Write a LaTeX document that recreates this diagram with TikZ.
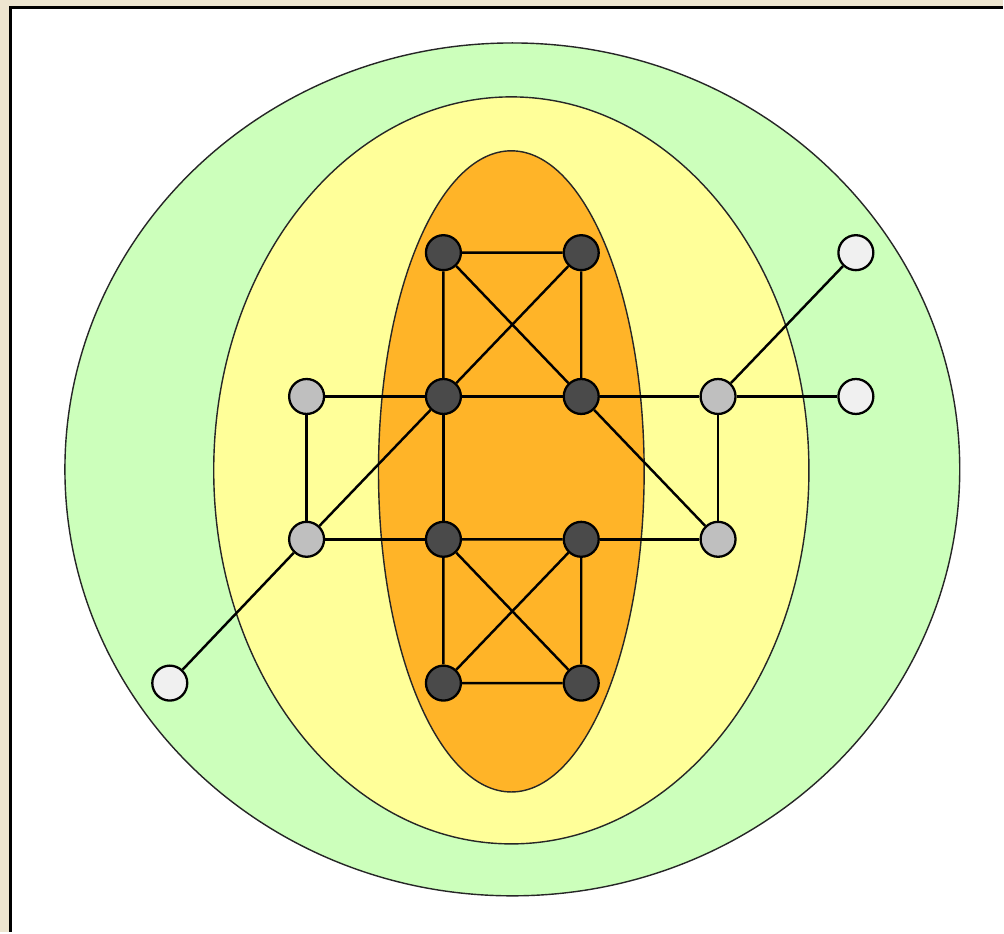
\documentclass[tikz,border=0pt]{standalone}
\usepackage{xcolor}
\usepackage{tikz}
\usetikzlibrary{positioning,calc}
\definecolor{qpaper}{RGB}{237,229,208}
\definecolor{qgreen}{RGB}{204,255,187}
\definecolor{qyellow}{RGB}{255,255,153}
\definecolor{qorange}{RGB}{255,180,40}
\definecolor{qdark}{RGB}{74,74,74}
\definecolor{qgray}{RGB}{191,191,191}
\definecolor{qwhite}{RGB}{240,240,240}

\begin{document}
\begin{tikzpicture}[x=0.02cm,y=-0.02cm,
  vtx/.style={circle,draw=black,line width=1.3pt,minimum size=0.7cm,inner sep=0pt},
  core/.style={vtx,fill=qdark},
  mid/.style={vtx,fill=qgray},
  leaf/.style={vtx,fill=qwhite},
  ring/.style={draw=black!85,line width=0.8pt},
  link/.style={line width=1.4pt,black}]
% frame
\fill[qpaper] (0,0) rectangle (1004,933);
\fill[white] (10,7) rectangle (1004,933);
\draw[line width=1.5pt] (10.5,933) -- (10.5,7.5) -- (1004,7.5);
% shells
\draw[ring,fill=qgreen] (513,470) ellipse [x radius=448,y radius=427];
\draw[ring,fill=qyellow] (512,471) ellipse [x radius=298,y radius=374];
\draw[ring,fill=qorange] (512,472) ellipse [x radius=133,y radius=321];
% vertices
\node[core] (c1) at (444,253) {};
\node[core] (c2) at (582,253) {};
\node[core] (c3) at (444,397) {};
\node[core] (c4) at (582,397) {};
\node[core] (c5) at (444,540) {};
\node[core] (c6) at (582,540) {};
\node[core] (c7) at (444,684) {};
\node[core] (c8) at (582,684) {};
\node[mid] (m1) at (307,397) {};
\node[mid] (m2) at (719,397) {};
\node[mid] (m3) at (307,540) {};
\node[mid] (m4) at (719,540) {};
\node[leaf] (o1) at (857,253) {};
\node[leaf] (o2) at (857,397) {};
\node[leaf] (o3) at (170,684) {};
% links
\draw[link] (c1)--(c2) (c1)--(c3) (c2)--(c4) (c1)--(c4) (c2)--(c3);
\draw[link] (c5)--(c6) (c5)--(c7) (c6)--(c8) (c7)--(c8) (c5)--(c8) (c6)--(c7);
\draw[link] (m1)--(c3) (c3)--(c4) (c4)--(m2) (m2)--(o2);
\draw[link] (m3)--(c5) (c6)--(m4);
\draw[link] (m1)--(m3) (m2)--(m4) (c3)--(c5);
\draw[link] (c3)--(m3) (m3)--(o3) (c4)--(m4) (m2)--(o1);
\end{tikzpicture}
\end{document}
